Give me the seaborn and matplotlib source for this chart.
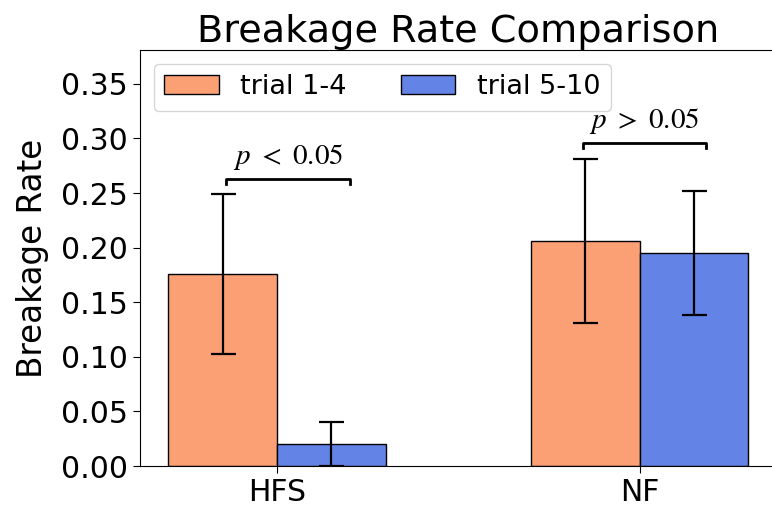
import matplotlib
matplotlib.use("Agg")
import matplotlib.pyplot as plt
import seaborn as sns
import pandas as pd

groups = ["HFS", "NF"]
trials = ["trial 1-4", "trial 5-10"]
rate_early = [0.176, 0.206]
rate_late = [0.020, 0.195]
err_early = [0.073, 0.075]
err_late = [0.020, 0.057]
p_labels = [r"$p\ <\ 0.05$", r"$p\ >\ 0.05$"]
bracket_y = [0.263, 0.296]
bracket_x = [(-0.14, 0.20), (-0.157, 0.182)]
colors = ["#FBA074", "#6384E6"]

plt.rcParams["font.family"] = ["DejaVu Sans"]
plt.rcParams["mathtext.fontset"] = "stix"

df = pd.DataFrame({
    "group": groups * 2,
    "trial": [trials[0]] * 2 + [trials[1]] * 2,
    "rate": rate_early + rate_late,
})

fig = plt.figure(figsize=(7.72, 5.14), dpi=100)
ax = fig.add_axes([140 / 772, 48 / 514, 636 / 772, 416 / 514])
sns.barplot(data=df, x="group", y="rate", hue="trial", order=groups, hue_order=trials,
            palette=colors, saturation=1, width=0.6, edgecolor="black", linewidth=1,
            errorbar=None, ax=ax)

# error bars on top of each bar, positions from the drawn patches
bars = [p for p in ax.patches if p.get_height() > 0]
bars = sorted(bars, key=lambda p: p.get_x())
vals = []
for i in range(len(groups)):
    vals.append((rate_early[i], err_early[i]))
    vals.append((rate_late[i], err_late[i]))
for p, (v, e) in zip(bars, vals):
    ax.errorbar(p.get_x() + p.get_width() / 2, v, yerr=e, color="black", capsize=9,
                elinewidth=1.6, capthick=1.6, fmt="none")

# significance brackets
for i in range(len(groups)):
    x0, x1 = i + bracket_x[i][0], i + bracket_x[i][1]
    y = bracket_y[i]
    ax.plot([x0, x0, x1, x1], [y - 0.005, y, y, y - 0.005], color="black", lw=2)
    ax.text((x0 + x1) / 2, y + 0.006, p_labels[i], ha="center", va="bottom", fontsize=21)

ax.set_xlim(-0.378, 1.376)
ax.set_ylim(0, 0.381)
ax.set_yticks([0.0, 0.05, 0.1, 0.15, 0.2, 0.25, 0.3, 0.35])
ax.set_yticklabels(["%.2f" % t for t in ax.get_yticks()])
ax.tick_params(axis="both", labelsize=21.5, length=5)
ax.set_xlabel("")
ax.set_ylabel("Breakage Rate", fontsize=23.5, labelpad=9)
ax.set_title("Breakage Rate Comparison", fontsize=27.5)
ax.legend(loc="upper left", ncol=2, fontsize=19.5)

fig.savefig("out.png", dpi=100)
